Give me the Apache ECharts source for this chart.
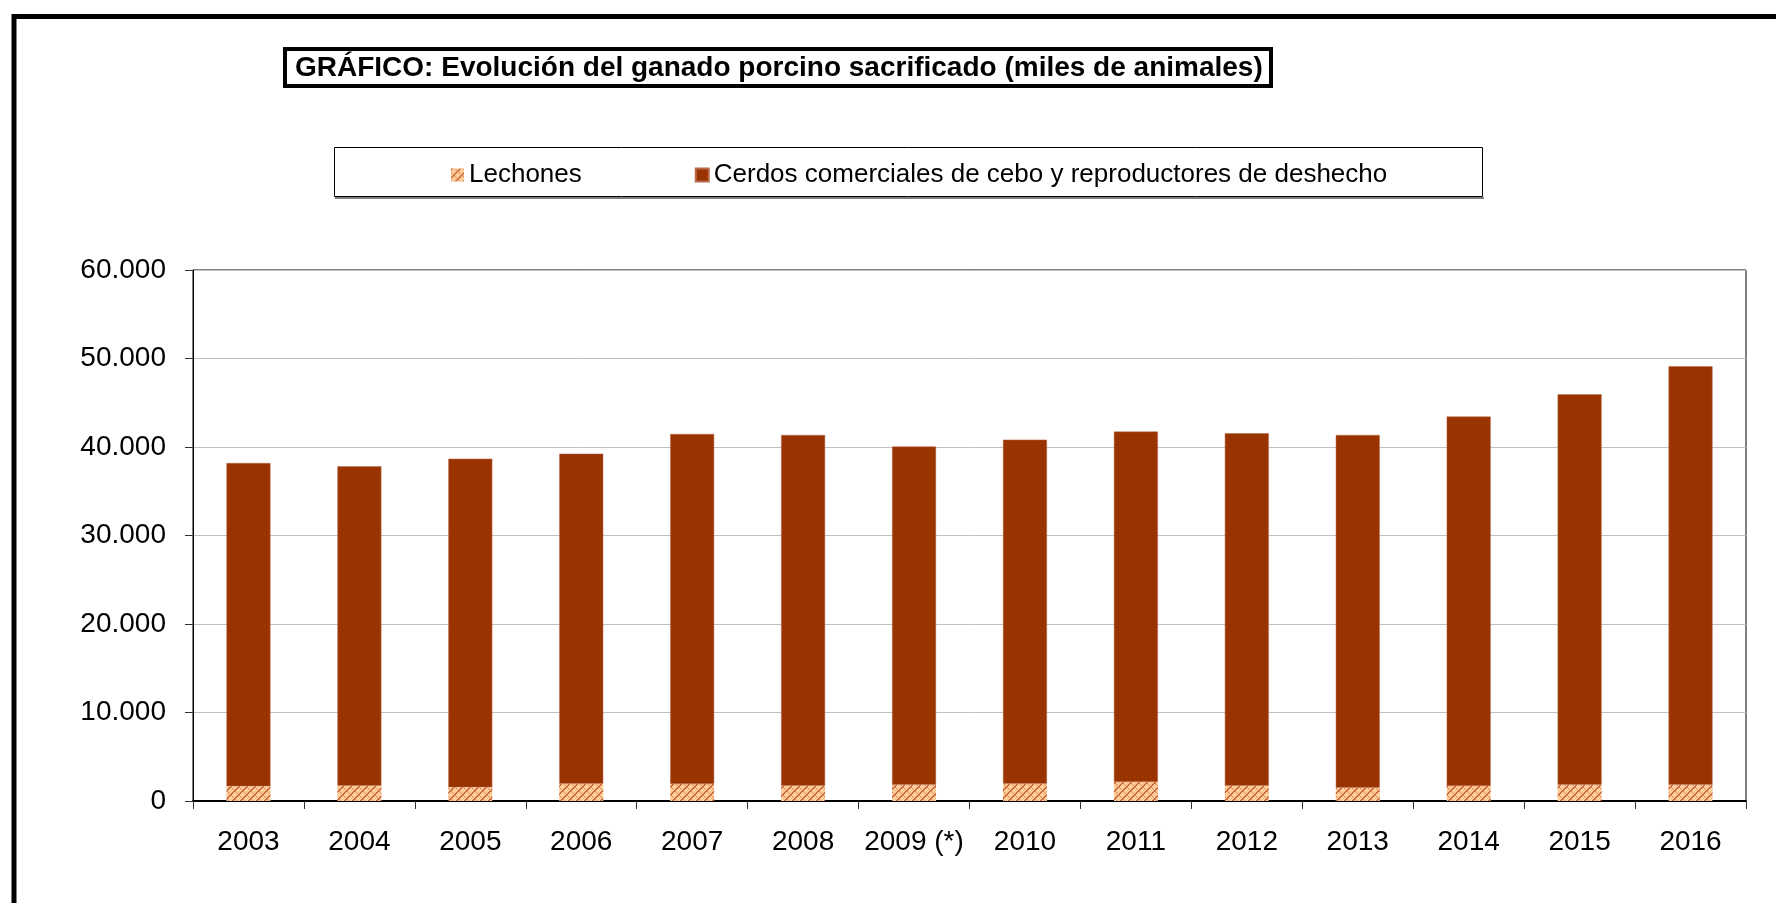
<!DOCTYPE html>
<html>
<head>
<meta charset="utf-8">
<script src="https://cdn.jsdelivr.net/npm/echarts@6/dist/echarts.min.js"></script>
<style>
html,body{margin:0;padding:0;background:#fff;}
#chart{width:1776px;height:903px;}
</style>
</head>
<body>
<div id="chart"></div>
<script>
const categories = ['2003','2004','2005','2006','2007','2008','2009 (*)','2010','2011','2012','2013','2014','2015','2016'];
const lechones = [1660,1736,1548,1963,1925,1736,1849,1963,2151,1736,1510,1699,1849,1849];
const cerdos = [36529,36075,37131,37282,39547,39622,38211,38870,39591,39817,39854,41748,44098,47280];
const seriesNames = ['Lechones','Cerdos comerciales de cebo y reproductores de deshecho'];
const titleText = 'GRÁFICO: Evolución del ganado porcino sacrificado (miles de animales)';

function makePattern(){
  const c = document.createElement('canvas');
  c.width = 8; c.height = 8;
  const g = c.getContext('2d');
  g.fillStyle = '#FFCC99';
  g.fillRect(0,0,8,8);
  g.fillStyle = '#C8683A';
  for (let i=0;i<8;i++){
    g.fillRect(i, (8 - i) % 8, 1, 1);
    g.fillRect(i, (9 - i) % 8, 1, 1);
  }
  g.fillStyle = '#DE8A58';
  for (let i=0;i<8;i++){
    g.fillRect(i, (i + 4) % 8, 1, 1);
  }
  return c;
}
const pattern = {image: makePattern(), repeat: 'repeat'};

const font = 'Liberation Sans, Arial, sans-serif';
const chart = echarts.init(document.getElementById('chart'), null, {renderer:'canvas'});
chart.setOption({
  backgroundColor: '#fff',
  animation: false,
  title: {
    text: titleText,
    left: 285, top: 49,
    padding: [5, 8, 4, 10],
    borderColor: '#000', borderWidth: 4,
    textStyle: {fontFamily: font, fontWeight: 'bold', fontSize: 28, color: '#000'}
  },
  legend: {
    left: 446, top: 157,
    itemWidth: 13, itemHeight: 13,
    itemGap: 113,
    icon: 'rect',
    textStyle: {fontFamily: font, fontSize: 26, color: '#000'},
    data: seriesNames
  },
  graphic: [
    {type:'rect', shape:{x:334.5, y:147.5, width:1148, height:49},
     style:{fill:'#fff', stroke:'#000', lineWidth:1}, z:-1},
    {type:'line', shape:{x1:335, y1:198, x2:1484, y2:198},
     style:{stroke:'#555', lineWidth:1.5}, z:-1},
    {type:'polyline', shape:{points:[[14,903],[14,16.5],[1776,16.5]]},
     style:{stroke:'#000', lineWidth:5, fill:null}, z:10}
  ],
  grid: {
    left: 193, right: 30, top: 270, bottom: 102,
    show: true, borderColor: '#000', borderWidth: 1, backgroundColor: 'transparent'
  },
  xAxis: {
    type: 'category',
    data: categories,
    boundaryGap: true,
    axisLine: {lineStyle: {color: '#000', width: 2}},
    axisTick: {show: true, length: 8, lineStyle: {color: '#333'}},
    axisLabel: {fontFamily: font, fontSize: 28, color: '#000', margin: 27, interval: 0},
  },
  yAxis: {
    type: 'value',
    min: 0, max: 60000, interval: 10000,
    axisLine: {show: true, lineStyle: {color: '#000', width: 1}},
    axisTick: {show: true, length: 8, lineStyle: {color: '#333'}},
    splitLine: {lineStyle: {color: '#c0c0c0', width: 1}},
    axisLabel: {
      fontFamily: font, fontSize: 28, color: '#000', margin: 27,
      formatter: v => v.toString().replace(/\B(?=(\d{3})+(?!\d))/g, '.')
    }
  },
  series: [
    {name: seriesNames[0], type: 'bar', stack: 't', barWidth: 44, data: lechones,
     itemStyle: {color: pattern}},
    {name: seriesNames[1], type: 'bar', stack: 't', barWidth: 44, data: cerdos,
     itemStyle: {color: '#993300', borderColor:'#b86a4a', borderWidth:0.5}}
  ]
});
</script>
</body>
</html>
